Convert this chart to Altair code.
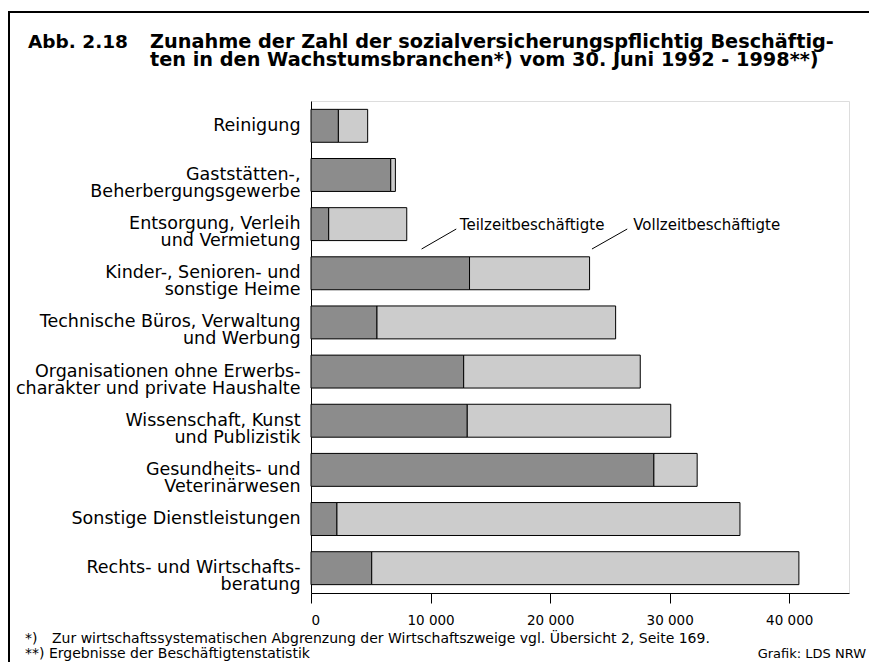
import altair as alt
import pandas as pd

categories = [
    "Reinigung",
    "Gaststätten-,|Beherbergungsgewerbe",
    "Entsorgung, Verleih|und Vermietung",
    "Kinder-, Senioren- und|sonstige Heime",
    "Technische Büros, Verwaltung|und Werbung",
    "Organisationen ohne Erwerbs-|charakter und private Haushalte",
    "Wissenschaft, Kunst|und Publizistik",
    "Gesundheits- und|Veterinärwesen",
    "Sonstige Dienstleistungen",
    "Rechts- und Wirtschafts-|beratung",
]
teilzeit = [2290, 6670, 1480, 13260, 5520, 12770, 13070, 28680, 2170, 5080]
vollzeit = [2450, 390, 6530, 10040, 19960, 14770, 17020, 3620, 33710, 35730]
series = ["Teilzeitbeschäftigte", "Vollzeitbeschäftigte"]
x_ticks = [0, 10000, 20000, 30000, 40000]

ann_label = ["Teilzeitbeschäftigte", "Vollzeitbeschäftigte"]
ann_text_x = [12450, 26950]
ann_line_from = [9250, 23500]
ann_line_to = [12150, 26450]

title_num = "Abb. 2.18"
title_lines = [
    "Zunahme der Zahl der sozialversicherungspflichtig Beschäftig-",
    "ten in den Wachstumsbranchen*) vom 30. Juni 1992 - 1998**)",
]
foot1_mark = "*)"
foot1 = "Zur wirtschaftssystematischen Abgrenzung der Wirtschaftszweige vgl. Übersicht 2, Seite 169."
foot2 = "**) Ergebnisse der Beschäftigtenstatistik"
source = "Grafik: LDS NRW"

FONT = "DejaVu Sans"

rows = []
for c, t, v in zip(categories, teilzeit, vollzeit):
    rows.append({"cat": c, "typ": series[0], "val": t, "ord": 0})
    rows.append({"cat": c, "typ": series[1], "val": v, "ord": 1})
df = pd.DataFrame(rows)

W, H = 538, 492

bars = alt.Chart(df).mark_bar(stroke="black", strokeWidth=1).encode(
    y=alt.Y("cat:N", sort=categories, title=None,
            scale=alt.Scale(paddingInner=0.33, paddingOuter=0.17),
            axis=alt.Axis(labelExpr="split(datum.label, '|')", labelFont=FONT,
                          labelFontSize=17.5, labelColor="black", labelLineHeight=17,
                          labelPadding=11, ticks=False, domainColor="black",
                          labelLimit=400)),
    x=alt.X("val:Q", stack="zero", title=None,
            scale=alt.Scale(domain=[0, 45000], nice=False),
            axis=alt.Axis(values=x_ticks, grid=False, tickSize=10, tickColor="black",
                          domainColor="black", labelFont=FONT, labelFontSize=13.5,
                          labelColor="black", labelPadding=10,
                          labelExpr="replace(format(datum.value, ','), ',', ' ')")),
    color=alt.Color("typ:N", scale=alt.Scale(domain=series, range=["#8c8c8c", "#cccccc"]),
                    legend=None),
    order=alt.Order("ord:Q"),
)

ann = pd.DataFrame({"label": ann_label, "tx": ann_text_x, "x1": ann_line_from, "x2": ann_line_to})
ann_lines = alt.Chart(ann).mark_rule(color="black", strokeWidth=1).encode(
    x="x1:Q", x2="x2:Q", y=alt.value(148), y2=alt.value(128)
)
ann_text = alt.Chart(ann).mark_text(align="left", baseline="middle", font=FONT,
                                    fontSize=15, color="black").encode(
    x="tx:Q", y=alt.value(124), text="label:N"
)

one = pd.DataFrame({"k": [0]})
t_num = alt.Chart(one).mark_text(align="left", baseline="alphabetic", font=FONT,
                                 fontSize=18.5, fontWeight="bold", color="black").encode(
    x=alt.value(-283), y=alt.value(-53), text=alt.value(title_num))
t_main = alt.Chart(one).mark_text(align="left", baseline="alphabetic", font=FONT,
                                  fontSize=19.3, fontWeight="bold", color="black",
                                  lineHeight=18).encode(
    x=alt.value(-161), y=alt.value(-53), text=alt.value(title_lines))

f1m = alt.Chart(one).mark_text(align="left", baseline="alphabetic", font=FONT,
                               fontSize=14, color="black").encode(
    x=alt.value(-286), y=alt.value(542), text=alt.value(foot1_mark))
f1 = alt.Chart(one).mark_text(align="left", baseline="alphabetic", font=FONT,
                              fontSize=14, color="black").encode(
    x=alt.value(-259), y=alt.value(542), text=alt.value(foot1))
f2 = alt.Chart(one).mark_text(align="left", baseline="alphabetic", font=FONT,
                              fontSize=14, color="black").encode(
    x=alt.value(-286), y=alt.value(557), text=alt.value(foot2))
src = alt.Chart(one).mark_text(align="right", baseline="alphabetic", font=FONT,
                               fontSize=13, color="black").encode(
    x=alt.value(555), y=alt.value(557), text=alt.value(source))

frame_top = alt.Chart(one).mark_rule(color="black", strokeWidth=2).encode(
    x=alt.value(-302), x2=alt.value(570), y=alt.value(-89))
frame_left = alt.Chart(one).mark_rule(color="black", strokeWidth=2).encode(
    x=alt.value(-302), y=alt.value(-90), y2=alt.value(575))

chart = alt.layer(
    bars, ann_lines, ann_text, t_num, t_main, f1m, f1, f2, src, frame_top, frame_left
).properties(
    width=W, height=H,
    autosize=alt.AutoSizeParams(type="none"),
    padding={"left": 303, "top": 93, "right": 20, "bottom": 69},
).configure_view(stroke="black", strokeWidth=1.2).configure(background="white")

chart.save("out.html", embed_options={"renderer": "svg", "actions": False})
